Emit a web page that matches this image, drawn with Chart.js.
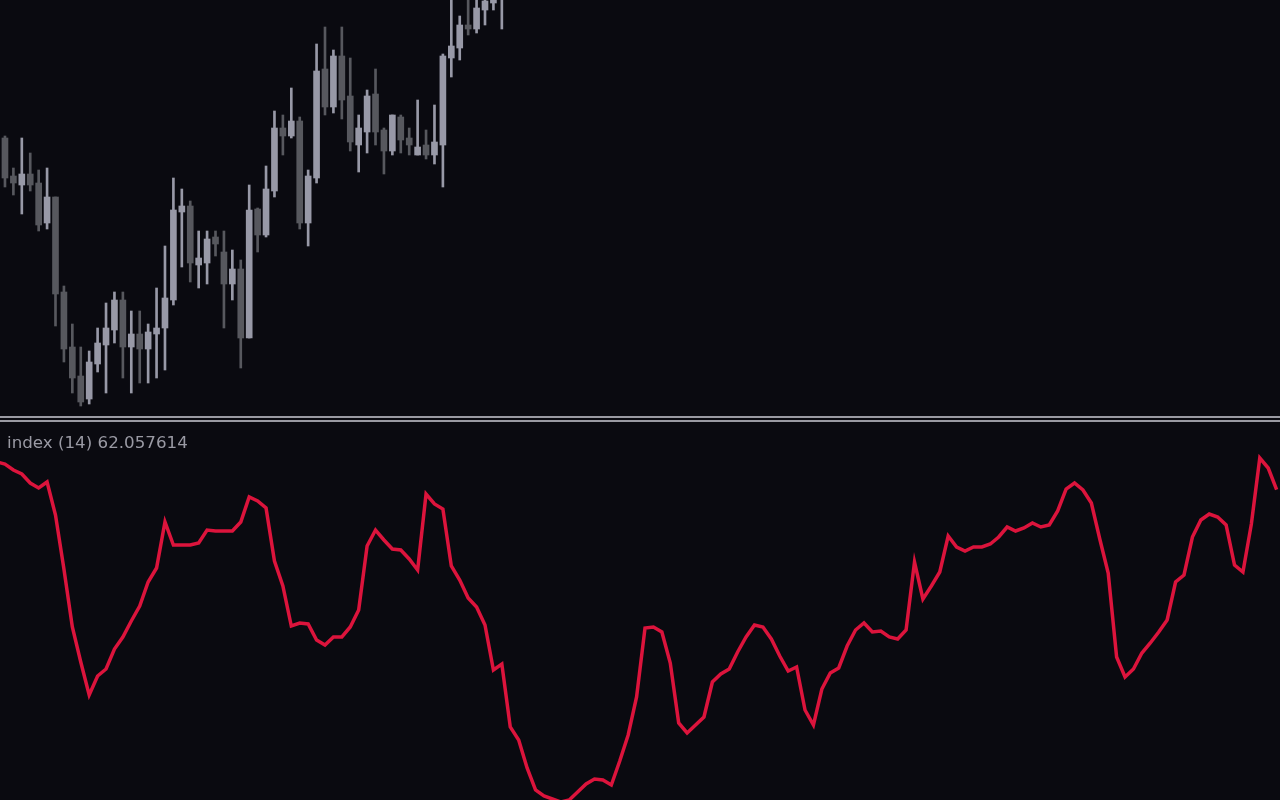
<!DOCTYPE html>
<html>
<head>
<meta charset="utf-8">
<title>index (14)</title>
<script src="https://cdn.jsdelivr.net/npm/chart.js@4.4.1/dist/chart.umd.min.js"></script>
<style>
  html, body { margin: 0; padding: 0; background: #0a0a10; overflow: hidden; }
  #wrap { position: relative; width: 1280px; height: 800px; }
  #price { position: absolute; left: 0; top: 0; }
  .split { position: absolute; left: 0; width: 1280px; height: 2px; background: #9a9aa2; }
  #indicator { position: absolute; left: 0; top: 422px; }
  #label {
    position: absolute; left: 7px; top: 434px;
    font-family: 'DejaVu Sans'; font-size: 16.7px; line-height: 16.7px;
    color: #9a9aa4; white-space: nowrap;
  }
</style>
</head>
<body>
<div id="wrap">
  <canvas id="price" width="1280" height="416"></canvas>
  <div class="split" style="top:416px"></div>
  <div class="split" style="top:420px"></div>
  <canvas id="indicator" width="1280" height="378"></canvas>
  <div id="label">index (14) 62.057614</div>
</div>
<script>
// candles, one per bar (bar 0 is the leftmost one)
const candleOpen = [
  1.1078, 1.1040, 1.1031, 1.1042, 1.1033, 1.0993, 1.1019, 1.0924, 1.0869, 1.0840,
  1.0817, 1.0852, 1.0871, 1.0886, 1.0916, 1.0869, 1.0882, 1.0867, 1.0882, 1.0888,
  1.0916, 1.1004, 1.1010, 1.0951, 1.0953, 1.0979, 1.0964, 1.0932, 1.0947, 1.0878,
  1.1007, 1.0981, 1.1025, 1.1088, 1.1080, 1.1095, 1.0993, 1.1038, 1.1147, 1.1109,
  1.1160, 1.1120, 1.1071, 1.1084, 1.1122, 1.1086, 1.1065, 1.1099, 1.1078, 1.1061,
  1.1071, 1.1061, 1.1071, 1.1158, 1.1168, 1.1191, 1.1187, 1.1206, 1.1213, 1.1218
];
const candleHigh = [
  1.1080, 1.1048, 1.1078, 1.1063, 1.1046, 1.1048, 1.1019, 1.0930, 1.0892, 1.0869,
  1.0865, 1.0888, 1.0913, 1.0924, 1.0924, 1.0905, 1.0905, 1.0892, 1.0928, 1.0970,
  1.1038, 1.1027, 1.1015, 1.0985, 1.0985, 1.0985, 1.0985, 1.0966, 1.0956, 1.1031,
  1.1008, 1.1050, 1.1105, 1.1101, 1.1128, 1.1099, 1.1046, 1.1172, 1.1189, 1.1166,
  1.1189, 1.1158, 1.1101, 1.1126, 1.1147, 1.1088, 1.1101, 1.1101, 1.1088, 1.1116,
  1.1086, 1.1111, 1.1162, 1.1221, 1.1200, 1.1219, 1.1218, 1.1219, 1.1221, 1.1230
];
const candleLow = [
  1.1029, 1.1021, 1.1002, 1.1025, 1.0985, 1.0987, 1.0890, 1.0854, 1.0823, 1.0810,
  1.0812, 1.0844, 1.0823, 1.0873, 1.0838, 1.0823, 1.0833, 1.0833, 1.0838, 1.0846,
  1.0911, 1.0949, 1.0934, 1.0928, 1.0932, 1.0960, 1.0888, 1.0916, 1.0848, 1.0878,
  1.0964, 1.0979, 1.1019, 1.1061, 1.1078, 1.0987, 1.0970, 1.1033, 1.1101, 1.1103,
  1.1097, 1.1065, 1.1044, 1.1063, 1.1071, 1.1042, 1.1061, 1.1063, 1.1061, 1.1061,
  1.1057, 1.1052, 1.1029, 1.1139, 1.1156, 1.1181, 1.1183, 1.1191, 1.1206, 1.1187
];
const candleClose = [
  1.1038, 1.1033, 1.1042, 1.1031, 1.0991, 1.1019, 1.0922, 1.0867, 1.0838, 1.0814,
  1.0854, 1.0873, 1.0888, 1.0916, 1.0869, 1.0882, 1.0867, 1.0884, 1.0888, 1.0918,
  1.1006, 1.1010, 1.0953, 1.0958, 1.0977, 1.0972, 1.0932, 1.0947, 1.0878, 1.1006,
  1.0981, 1.1027, 1.1088, 1.1080, 1.1095, 1.0993, 1.1040, 1.1145, 1.1109, 1.1160,
  1.1116, 1.1074, 1.1088, 1.1120, 1.1084, 1.1065, 1.1101, 1.1076, 1.1071, 1.1069,
  1.1061, 1.1074, 1.1160, 1.1170, 1.1191, 1.1187, 1.1208, 1.1215, 1.1218, 1.1226
];

// index (14) values, first one belongs to bar -1
const indexFirstBar = -1;
const indexValues = [
  67.6, 67.2, 66.0, 65.2, 63.4, 62.4, 63.6, 57.0, 46.2, 34.6,
  27.6, 21.0, 24.8, 26.2, 30.2, 32.6, 35.8, 38.8, 43.6, 46.4,
  55.6, 51.0, 51.0, 51.0, 51.4, 54.0, 53.8, 53.8, 53.8, 55.6,
  60.6, 59.8, 58.4, 47.8, 42.8, 34.8, 35.4, 35.2, 32.0, 31.0,
  32.6, 32.6, 34.6, 38.0, 50.8, 54.0, 52.0, 50.2, 50.0, 48.2,
  46.0, 61.2, 59.2, 58.2, 46.8, 44.0, 40.4, 38.6, 35.0, 26.0,
  27.2, 14.6, 12.0, 6.4, 2.0, 0.8, 0.2, -0.4, 0.0, 1.6,
  3.2, 4.2, 4.0, 3.0, 7.8, 13.0, 20.6, 34.4, 34.6, 33.6,
  27.4, 15.4, 13.4, 15.0, 16.6, 23.6, 25.2, 26.2, 29.6, 32.6,
  35.0, 34.6, 32.2, 28.8, 25.8, 26.6, 18.0, 15.0, 22.2, 25.4,
  26.4, 30.8, 34.0, 35.4, 33.6, 33.8, 32.6, 32.2, 34.0, 47.6,
  40.2, 42.8, 45.6, 52.8, 50.6, 49.8, 50.6, 50.6, 51.2, 52.6,
  54.6, 53.8, 54.4, 55.4, 54.6, 55.0, 57.8, 62.2, 63.4, 62.0,
  59.4, 52.2, 45.4, 28.6, 24.6, 26.2, 29.4, 31.4, 33.6, 36.0,
  43.6, 45.0, 52.6, 56.0, 57.2, 56.6, 55.0, 47.0, 45.6, 55.2,
  68.4, 66.4, 62.06
];

// visible bar range and value ranges of the two windows
const barMin = -0.59;
const barMax = 151.4;
const priceMin = 1.0800;
const priceMax = 1.1216;
const indexMin = 0;
const indexMax = 75.6;

const upColor = '#9899a7';
const downColor = '#57585e';
const lineColor = '#dc143c';

const candleColor = (ctx) =>
  candleClose[ctx.dataIndex] >= candleOpen[ctx.dataIndex] ? upColor : downColor;

const wicks = candleLow.map((low, i) => ({ x: i, y: [low, candleHigh[i]] }));
const bodies = candleOpen.map((open, i) => ({ x: i, y: [open, candleClose[i]] }));
const indexPoints = indexValues.map((v, i) => ({ x: indexFirstBar + i, y: v }));

const hiddenX = {
  type: 'linear',
  min: barMin,
  max: barMax,
  offset: false,
  display: false
};

new Chart(document.getElementById('price'), {
  type: 'bar',
  data: {
    datasets: [
      {
        data: wicks,
        backgroundColor: candleColor,
        maxBarThickness: 2,
        borderWidth: 0,
        grouped: false,
        minBarLength: 1
      },
      {
        data: bodies,
        backgroundColor: candleColor,
        maxBarThickness: 6,
        borderWidth: 0,
        grouped: false,
        minBarLength: 1
      }
    ]
  },
  options: {
    responsive: false,
    animation: false,
    events: [],
    layout: { padding: 0 },
    barPercentage: 1,
    categoryPercentage: 1,
    scales: {
      x: hiddenX,
      y: { min: priceMin, max: priceMax, display: false }
    },
    plugins: {
      legend: { display: false },
      tooltip: { enabled: false }
    }
  }
});

new Chart(document.getElementById('indicator'), {
  type: 'line',
  data: {
    datasets: [
      {
        data: indexPoints,
        borderColor: lineColor,
        borderWidth: 3.5,
        pointRadius: 0,
        tension: 0,
        fill: false
      }
    ]
  },
  options: {
    responsive: false,
    animation: false,
    events: [],
    layout: { padding: 0 },
    scales: {
      x: hiddenX,
      y: { min: indexMin, max: indexMax, display: false }
    },
    plugins: {
      legend: { display: false },
      tooltip: { enabled: false }
    }
  }
});
</script>
</body>
</html>
